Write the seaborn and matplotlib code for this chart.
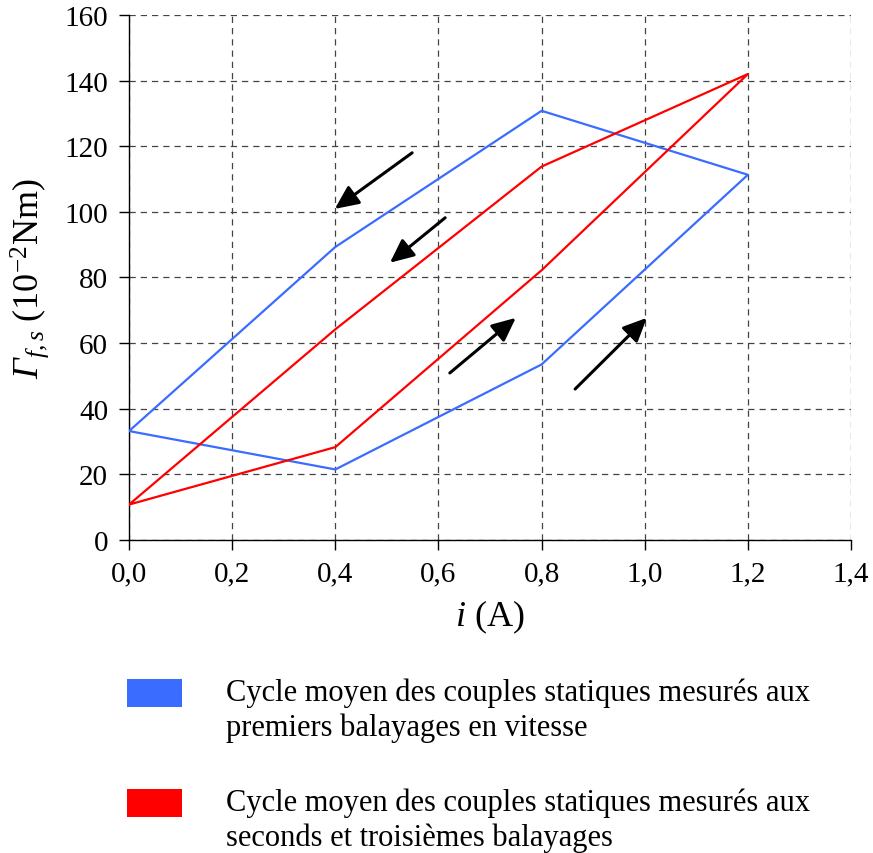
import matplotlib
matplotlib.use("Agg")
import matplotlib.pyplot as plt
from matplotlib.patches import Rectangle
import seaborn as sns
import pandas as pd

# Hysteresis cycles of static torque versus current
current_blue = [0.0, 0.4, 0.8, 1.2, 0.8, 0.4, 0.0]
torque_blue = [33.2, 21.5, 53.5, 111.3, 130.8, 89.3, 33.2]
current_red = [0.0, 0.4, 0.8, 1.2, 0.8, 0.4, 0.0]
torque_red = [10.8, 28.3, 82.2, 142.0, 113.8, 64.2, 10.8]

x_ticks = [0.0, 0.2, 0.4, 0.6, 0.8, 1.0, 1.2, 1.4]
y_ticks = [0, 20, 40, 60, 80, 100, 120, 140, 160]
x_tick_labels = ["0,0", "0,2", "0,4", "0,6", "0,8", "1,0", "1,2", "1,4"]

legend_labels = [
    "Cycle moyen des couples statiques mesurés aux\npremiers balayages en vitesse",
    "Cycle moyen des couples statiques mesurés aux\nseconds et troisièmes balayages",
]
blue = "#3a6cff"
red = "#ff0000"

# direction arrows along the cycle: (x_start, y_start, x_end, y_end)
arrows = [
    (0.549, 118.0, 0.399, 100.9),
    (0.613, 98.2, 0.506, 84.5),
    (0.622, 50.9, 0.750, 67.7),
    (0.865, 46.0, 1.004, 67.7),
]

sns.set_theme(style="white")
plt.rcParams["font.family"] = ["Liberation Serif", "DejaVu Serif"]
plt.rcParams["text.color"] = "black"
plt.rcParams["axes.labelcolor"] = "black"
# math symbols (Greek letters included) are set in the italic serif face,
# \mathsf is used for the upright exponent
plt.rcParams["mathtext.fontset"] = "custom"
plt.rcParams["mathtext.rm"] = "Liberation Serif:italic"
plt.rcParams["mathtext.it"] = "Liberation Serif:italic"
plt.rcParams["mathtext.sf"] = "Liberation Serif"

fig = plt.figure(figsize=(8.73, 8.54), dpi=100)
ax = fig.add_axes([0.1478, 0.3665, 0.8270, 0.6148])

df_blue = pd.DataFrame({"i": current_blue, "T": torque_blue})
df_red = pd.DataFrame({"i": current_red, "T": torque_red})
sns.lineplot(data=df_blue, x="i", y="T", sort=False, estimator=None,
             color=blue, linewidth=1.6, ax=ax, zorder=3)
sns.lineplot(data=df_red, x="i", y="T", sort=False, estimator=None,
             color=red, linewidth=1.6, ax=ax, zorder=3)

for x0, y0, x1, y1 in arrows:
    ax.annotate("", xy=(x1, y1), xytext=(x0, y0),
                arrowprops=dict(arrowstyle="-|>,head_length=1.2,head_width=0.55",
                                color="black", lw=2.2, shrinkA=0, shrinkB=0),
                zorder=4)

ax.set_xlim(0, 1.4)
ax.set_ylim(0, 160)
ax.set_xticks(x_ticks)
ax.set_xticklabels(x_tick_labels)
ax.set_yticks(y_ticks)
ax.tick_params(axis="both", labelsize=21, colors="black", direction="out",
               length=7, width=1.0, pad=8, bottom=True, left=True)
ax.grid(True, color="#444444", linestyle=(0, (5, 4)), linewidth=0.9)
for side in ["top", "right"]:
    ax.spines[side].set_visible(False)
for side in ["left", "bottom"]:
    ax.spines[side].set_color("black")
    ax.spines[side].set_linewidth(1.0)

ax.set_xlabel(r"$i$ (A)", fontsize=26, labelpad=8)
ax.set_ylabel(r"$\Gamma_{f,s}$ (10$^{\mathsf{-2}}$Nm)", fontsize=26, labelpad=10)

# legend drawn as coloured swatches with two-line captions
fig_w, fig_h = 873, 854
for k, (label, col) in enumerate(zip(legend_labels, [blue, red])):
    top = 680 + k * 110
    fig.add_artist(Rectangle((127 / fig_w, 1 - (top + 28) / fig_h), 55 / fig_w, 28 / fig_h,
                             transform=fig.transFigure, facecolor=col, edgecolor="none"))
    fig.text(226 / fig_w, 1 - (top - 1) / fig_h, label, fontsize=22, va="top",
             ha="left", linespacing=1.22)

fig.savefig("out.png", dpi=100, facecolor="white")
